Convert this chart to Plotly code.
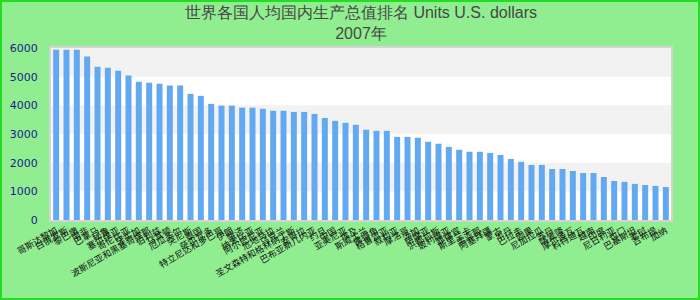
import plotly.graph_objects as go

title_main = "世界各国人均国内生产总值排名 Units U.S. dollars"
title_year = "2007年"

countries = [
    "哥斯达黎加", "白俄罗斯", "黎巴嫩", "南非", "巴拿马", "秘鲁", "塞尔维亚", "哥伦比亚", "牙买加",
    "波斯尼亚和黑塞哥维那", "伯利兹", "马其顿", "厄瓜多尔", "突尼斯", "泰国", "萨尔瓦多",
    "特立尼达和多巴哥", "伊朗", "斐济", "纳米比亚", "阿尔巴尼亚", "危地马拉", "乌克兰",
    "圣文森特和格林纳丁斯", "安哥拉", "巴布亚新几内亚", "约旦", "中国", "亚美尼亚", "埃及",
    "斯威士兰", "佛得角", "格鲁吉亚", "叙利亚", "摩洛哥", "汤加", "萨摩亚", "洪都拉斯",
    "玻利维亚", "菲律宾", "斯里兰卡", "圭亚那", "阿塞拜疆", "蒙古", "不丹", "巴拉圭", "刚果",
    "尼加拉瓜", "苏丹", "喀麦隆", "摩尔多瓦", "科特迪瓦", "越南", "印度", "尼日利亚", "也门",
    "巴基斯坦", "老挝", "吉布提", "加纳",
]
values = [
    5940, 5940, 5940, 5700, 5350, 5310, 5210, 5040, 4820, 4790,
    4750, 4690, 4690, 4400, 4330, 4050, 3990, 3990, 3920, 3920,
    3880, 3810, 3810, 3770, 3770, 3700, 3560, 3460, 3390, 3320,
    3150, 3110, 3110, 2900, 2900, 2870, 2730, 2660, 2550, 2450,
    2380, 2380, 2340, 2270, 2130, 2030, 1920, 1920, 1780, 1780,
    1710, 1640, 1640, 1500, 1360, 1330, 1260, 1220, 1190, 1150,
]
y_ticks = [0, 1000, 2000, 3000, 4000, 5000, 6000]

W, H = 700, 300
ml, mr, mt, mb = 51, 29, 48, 80

fig = go.Figure(go.Bar(
    x=countries, y=values,
    marker=dict(color="#62a9f2", line=dict(width=0)),
    hoverinfo="x+y",
))

shapes = []
# alternating horizontal bands between ticks (top band grey)
for i in range(len(y_ticks) - 1):
    if (len(y_ticks) - 2 - i) % 2 == 0:
        shapes.append(dict(type="rect", xref="paper", yref="y", x0=0, x1=1,
                           y0=y_ticks[i], y1=y_ticks[i + 1],
                           fillcolor="#f2f2f2", line=dict(width=0), layer="below"))
# outer green border
pw, ph = W - ml - mr, H - mt - mb
shapes.append(dict(type="rect", xref="paper", yref="paper",
                   x0=(-ml + 1) / pw, x1=1 + (mr - 1) / pw,
                   y0=(-mb + 1) / ph, y1=1 + (mt - 1) / ph,
                   line=dict(color="#22dd22", width=2), fillcolor="rgba(0,0,0,0)", layer="above"))

fig.update_layout(
    width=W, height=H,
    margin=dict(l=ml, r=mr, t=mt, b=mb, autoexpand=False),
    paper_bgcolor="#90ee90",
    plot_bgcolor="#ffffff",
    bargap=0.42,
    showlegend=False,
    title=dict(text=title_main + "<br>" + title_year,
               font=dict(family="Liberation Sans, Arial, sans-serif", size=16, color="#474747"),
               x=0.5, xanchor="center", xref="paper",
               y=0.94, yanchor="top", yref="container"),
    shapes=shapes,
    xaxis=dict(
        tickmode="array", tickvals=countries, ticktext=countries,
        tickangle=-30,
        tickfont=dict(family="Noto Sans CJK SC, sans-serif", size=9, color="#111111"),
        showgrid=False, zeroline=False,
        showline=True, linecolor="#d4d4d4", linewidth=2, mirror=True,
        ticks="", automargin=False,
    ),
    yaxis=dict(
        range=[0, 6000],
        tickvals=y_ticks,
        tickfont=dict(family="DejaVu Sans, sans-serif", size=11, color="#1c1c8c"),
        showgrid=False, zeroline=False,
        showline=True, linecolor="#d4d4d4", linewidth=2, mirror=True,
        ticks="", ticklabelstandoff=9, automargin=False,
    ),
)

fig.write_html("out.html")
